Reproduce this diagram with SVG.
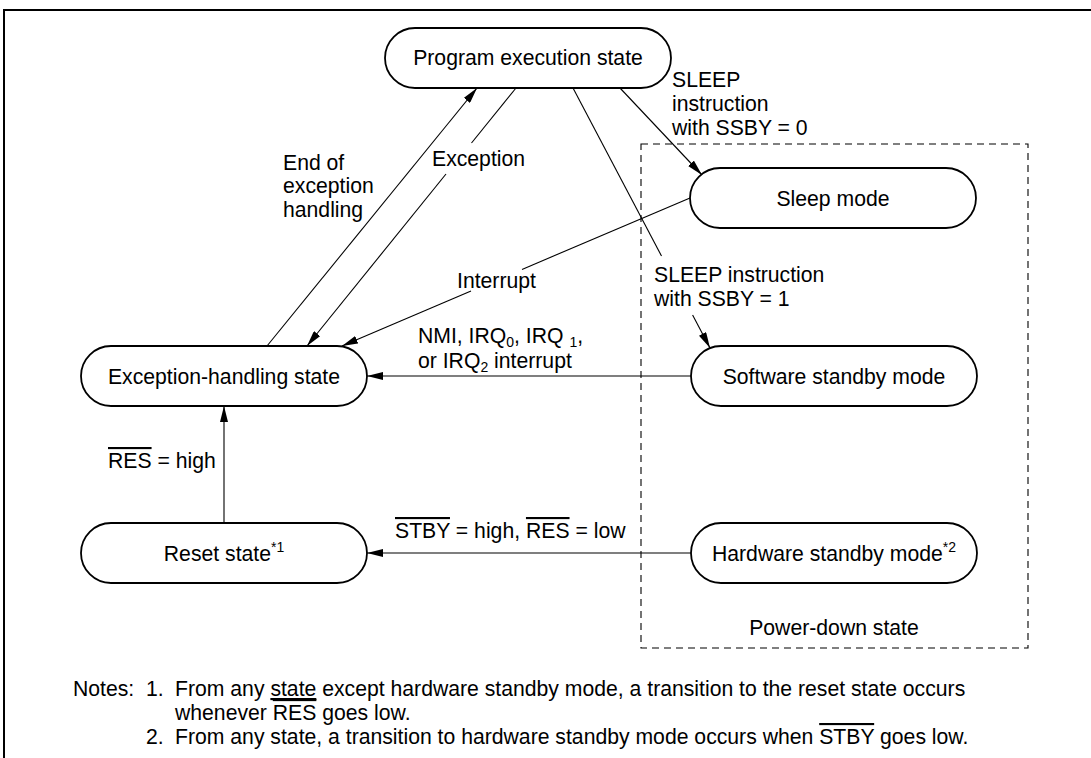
<svg xmlns="http://www.w3.org/2000/svg" width="1091" height="758" viewBox="0 0 1091 758">
<style>
  .bg { fill: #fff; }
  .frame { fill: none; stroke: #000; stroke-width: 2; }
  .node rect { fill: #fff; stroke: #000; stroke-width: 1.8; }
  .t { font-family: "Liberation Sans", Arial, Helvetica, sans-serif; font-size: 21.2px; fill: #000; }
  .mid { text-anchor: middle; }
  .conn line { stroke: #000; stroke-width: 1.1; fill: none; }
  .dash { fill: none; stroke: #000; stroke-width: 1.1; stroke-dasharray: 7 5; }
  .sup { font-size: 14px; }
</style>
<defs>
  <marker id="ah" markerUnits="userSpaceOnUse" markerWidth="16" markerHeight="8" refX="16" refY="4" orient="auto">
    <path d="M0,0 L16,4 L0,8 z" fill="#000"/>
  </marker>
</defs>
<rect class="bg" x="0" y="0" width="1091" height="758"/>
<path class="frame" d="M4,758 V10 H1091"/>

<g id="power-down-group">
  <rect class="dash" x="641" y="144" width="387" height="504"/>
  <text class="t mid" x="834" y="635">Power-down state</text>
</g>

<g id="connectors" class="conn">
  <line x1="267" y1="346" x2="477" y2="88" marker-end="url(#ah)"/>
  <line x1="516" y1="88" x2="471.5" y2="143"/>
  <line x1="446" y1="174" x2="307" y2="346" marker-end="url(#ah)"/>
  <line x1="573" y1="88" x2="661.5" y2="256"/>
  <line x1="692.6" y1="315" x2="710" y2="348" marker-end="url(#ah)"/>
  <line x1="620" y1="88" x2="702" y2="175" marker-end="url(#ah)"/>
  <line x1="690" y1="198" x2="522" y2="269.4"/>
  <line x1="471" y1="291.1" x2="342" y2="346" marker-end="url(#ah)"/>
  <line x1="691" y1="376" x2="367" y2="376" marker-end="url(#ah)"/>
  <line x1="224" y1="523" x2="224" y2="406" marker-end="url(#ah)"/>
  <line x1="691" y1="553" x2="367" y2="553" marker-end="url(#ah)"/>
</g>

<g id="labels">
  <text class="t" x="283" y="170">End of</text>
  <text class="t" x="283" y="193">exception</text>
  <text class="t" x="283" y="217">handling</text>
  <text class="t" x="432" y="166">Exception</text>
  <text class="t" x="672" y="87">SLEEP</text>
  <text class="t" x="672" y="111">instruction</text>
  <text class="t" x="672" y="135">with SSBY = 0</text>
  <text class="t" x="654" y="282">SLEEP instruction</text>
  <text class="t" x="654" y="306">with SSBY = 1</text>
  <text class="t" x="457" y="288">Interrupt</text>
  <text class="t" x="418" y="343">NMI, IRQ<tspan class="sup" dy="4">0</tspan><tspan dy="-4">, IRQ </tspan><tspan class="sup" dy="4">1</tspan><tspan dy="-4">,</tspan></text>
  <text class="t" x="418" y="368">or IRQ<tspan class="sup" dy="4">2</tspan><tspan dy="-4"> interrupt</tspan></text>
  <text class="t" x="108" y="468"><tspan text-decoration="overline">RES</tspan> = high</text>
  <text class="t" x="395" y="538"><tspan text-decoration="overline">STBY</tspan> = high, <tspan text-decoration="overline">RES</tspan> = low</text>
</g>

<g id="program-execution" class="node">
  <rect x="385" y="28" width="286" height="60" rx="30" ry="30"/>
  <text class="t mid" x="528" y="65">Program execution state</text>
</g>
<g id="sleep-mode" class="node">
  <rect x="690" y="168" width="286" height="60" rx="30" ry="30"/>
  <text class="t mid" x="833" y="206">Sleep mode</text>
</g>
<g id="software-standby" class="node">
  <rect x="691" y="346" width="286" height="60" rx="30" ry="30"/>
  <text class="t mid" x="834" y="384">Software standby mode</text>
</g>
<g id="exception-handling" class="node">
  <rect x="81" y="346" width="286" height="60" rx="30" ry="30"/>
  <text class="t mid" x="224" y="384">Exception-handling state</text>
</g>
<g id="reset-state" class="node">
  <rect x="81" y="523" width="286" height="60" rx="30" ry="30"/>
  <text class="t mid" x="224" y="561">Reset state<tspan class="sup" dy="-9">*1</tspan></text>
</g>
<g id="hardware-standby" class="node">
  <rect x="691" y="523" width="286" height="60" rx="30" ry="30"/>
  <text class="t mid" x="834" y="561">Hardware standby mode<tspan class="sup" dy="-9">*2</tspan></text>
</g>

<g id="notes">
  <text class="t" x="73" y="696">Notes:</text>
  <text class="t" x="146" y="696">1.</text>
  <text class="t" x="175" y="696">From any <tspan text-decoration="underline">state</tspan> except hardware standby mode, a transition to the reset state occurs</text>
  <text class="t" x="175" y="720">whenever <tspan text-decoration="overline">RES</tspan> goes low.</text>
  <text class="t" x="146" y="744">2.</text>
  <text class="t" x="175" y="744">From any state, a transition to hardware standby mode occurs when <tspan text-decoration="overline">STBY</tspan> goes low.</text>
</g>
</svg>
